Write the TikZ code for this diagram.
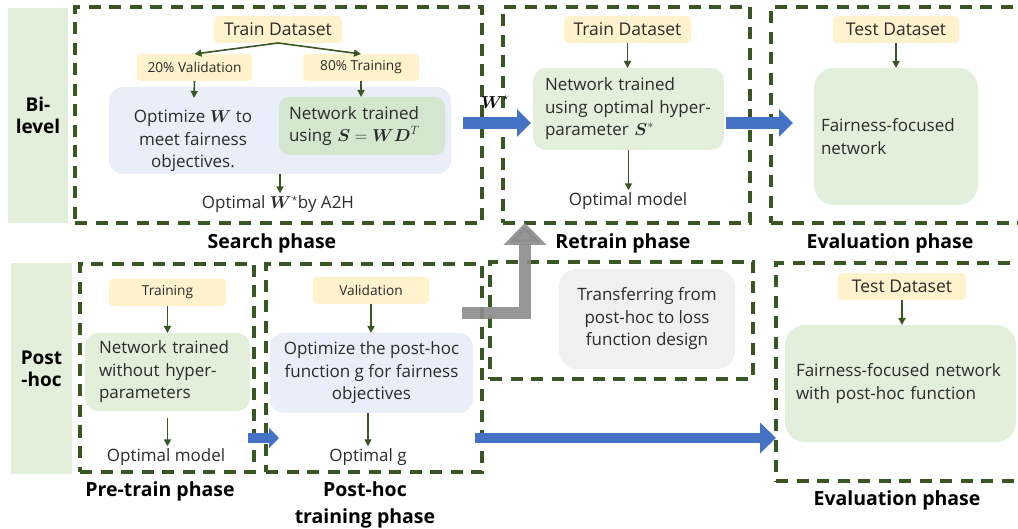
\documentclass[tikz,border=0pt]{standalone}
\usepackage{fontspec}
\setmainfont{Open Sans}
\usepackage{amsmath,amssymb}
\usetikzlibrary{arrows.meta}
\definecolor{dgreen}{HTML}{385723}
\definecolor{bargreen}{HTML}{E2EFDA}
\definecolor{boxgreen}{HTML}{E2EFDA}
\definecolor{innergreen}{HTML}{D3E6CE}
\definecolor{ylw}{HTML}{FFF2CC}
\definecolor{lblue}{HTML}{E9EEF8}
\definecolor{arrblue}{HTML}{4472C4}
\definecolor{lgray}{HTML}{F0F0F0}
\definecolor{agray}{HTML}{8C8C8C}
\definecolor{txt}{HTML}{2B2B2B}
\tikzset{
  mainfont/.style={font=\fontsize{17}{22.5}\selectfont, text=txt},
  bar/.style={fill=bargreen, inner sep=0pt, outer sep=0pt, align=center, font=\bfseries\fontsize{19}{22}\selectfont},
  dbox/.style={draw=dgreen, line width=3.2pt, dash pattern=on 12pt off 8.5pt, inner sep=0pt, outer sep=0pt},
  ybox/.style={fill=ylw, rounded corners=4pt, inner sep=0pt, outer sep=0pt, text=txt, font=\fontsize{17.5}{18}\selectfont},
  ysmall/.style={ybox, font=\fontsize{13.7}{15}\selectfont},
  gbox/.style={fill=boxgreen, rounded corners=13pt, inner ysep=0pt, outer sep=0pt, mainfont},
  bbox/.style={fill=lblue, rounded corners=14pt, inner sep=0pt, outer sep=0pt, mainfont},
  plain/.style={mainfont, inner sep=2pt, align=center},
  lbl/.style={font=\bfseries\fontsize{19.5}{27}\selectfont, text=black, align=center},
  sarr/.style={draw=dgreen, line width=1.6pt, -{Triangle[length=7pt,width=7pt]}},
  barr/.style={draw=arrblue, line width=12pt},
}
\begin{document}
\begin{tikzpicture}[x=1pt,y=-1pt]
\useasboundingbox (0,0) rectangle (1018,529);
\clip (0,0) rectangle (1018,529);

% side bars
\node[bar, minimum width=60pt, minimum height=215pt] (bibar) at (38,115.5) {Bi-\\level};
\node[bar, minimum width=61pt, minimum height=211pt] (phbar) at (41.5,368.5) {Post\\-hoc};

% dashed phase boxes
\node[dbox, minimum width=407pt, minimum height=216pt] (searchbox) at (278.5,115) {};
\node[dbox, minimum width=247pt, minimum height=216pt] (retrainbox) at (626.5,115) {};
\node[dbox, minimum width=269pt, minimum height=216pt] (evaltop) at (905.5,115) {};
\node[dbox, minimum width=174pt, minimum height=208pt] (pretrainbox) at (167,368) {};
\node[dbox, minimum width=216pt, minimum height=208pt] (posthocbox) at (374,368) {};
\node[dbox, minimum width=263pt, minimum height=117pt] (transferbox) at (621.5,320.5) {};
\node[dbox, minimum width=264pt, minimum height=218pt] (evalbot) at (908,372) {};

% ---------- search phase ----------
\node[ybox, minimum width=128pt, minimum height=27pt] (trainds1) at (278,29.5) {Train Dataset};
\node[ysmall, minimum width=115pt, minimum height=27pt] (val20) at (194.5,67.5) {20\% Validation};
\node[ysmall, minimum width=116pt, minimum height=27pt] (tr80) at (361,67.5) {80\% Training};
\node[bbox, minimum width=342pt, minimum height=87pt] (outerblue) at (280,130.5) {};
\node[plain] (optW) at (193,141) {Optimize $\boldsymbol{W}$ to\\meet fairness\\objectives.};
\node[gbox, fill=innergreen, rounded corners=10pt, minimum height=58pt, text width=146pt, inner xsep=10pt, align=left] (innernet) at (362,126) {Network trained\\using $\boldsymbol{S}=\boldsymbol{W}\boldsymbol{D}^{T}$};
\node[plain] (optWs) at (278,204) {Optimal $\boldsymbol{W}^{\star}$by A2H};
\coordinate (valend) at (194,98);
\draw[sarr] (trainds1.south) -- (val20.north);
\draw[sarr] (trainds1.south) -- (tr80.north);
\draw[sarr] (val20.south) -- (valend);
\draw[sarr] (tr80.south) -- (innernet.north -| tr80.south);
\draw[sarr] (outerblue.south) -- (optWs.north -| outerblue.south);
\node[lbl] (searchlbl) at (272,243) {Search phase};

% ---------- retrain phase ----------
\node[ybox, minimum width=127pt, minimum height=27pt] (trainds2) at (627.5,29.5) {Train Dataset};
\node[gbox, minimum height=82pt, text width=167pt, inner xsep=12pt, align=left] (retrainnet) at (628.5,109) {Network trained\\using optimal hyper-\\parameter $\boldsymbol{S}^{*}$};
\node[plain] (optmodel1) at (628,201) {Optimal model};
\draw[sarr] (trainds2.south) -- (retrainnet.north -| trainds2.south);
\draw[sarr] (retrainnet.south) -- (optmodel1.north -| retrainnet.south);
\node[lbl] (retrainlbl) at (623,243) {Retrain phase};

% ---------- evaluation (top) ----------
\node[ybox, minimum width=126pt, minimum height=27pt] (testds1) at (896,29.5) {Test Dataset};
\node[gbox, rounded corners=20pt, minimum height=137pt, text width=150pt, inner xsep=7pt, align=left] (evalnet1) at (896,136.5) {Fairness-focused\\network};
\draw[sarr] (testds1.south) -- (evalnet1.north -| testds1.south);
\node[lbl] (evallbl1) at (890,243) {Evaluation phase};

% blue arrows top
\coordinate (wstart) at (463,123);
\coordinate (wend) at (531,123);
\coordinate (rstart) at (726,123);
\coordinate (rend) at (793,123);
\draw[barr, -{Triangle[length=14pt,width=27pt]}] (wstart) -- (wend);
\draw[barr, -{Triangle[length=14pt,width=27pt]}] (rstart) -- (rend);
\node[font=\fontsize{16}{18}\selectfont] (wlabel) at (495,102) {$\boldsymbol{W}^{\star}$};

% ---------- pre-train phase ----------
\node[ysmall, minimum width=117pt, minimum height=27pt] (training) at (167.5,292.5) {Training};
\node[gbox, minimum height=78pt, text width=137pt, inner xsep=14pt, align=left] (pretrainnet) at (167.5,372) {Network trained\\without hyper-\\parameters};
\node[plain] (optmodel2) at (166,457) {Optimal model};
\draw[sarr] (training.south) -- (pretrainnet.north -| training.south);
\draw[sarr, shorten <=7pt] (pretrainnet.south) -- (optmodel2.north -| pretrainnet.south);
\node[lbl] (pretrainlbl) at (160,491) {Pre-train phase};

% ---------- post-hoc training phase ----------
\node[ysmall, minimum width=116pt, minimum height=27pt] (validation) at (371,290.5) {Validation};
\node[bbox, minimum width=203pt, minimum height=80pt, align=center] (posthocopt) at (371.5,373) {Optimize the post-hoc\\function g for fairness\\objectives};
\node[plain] (optg) at (368,457) {Optimal g};
\draw[sarr] (validation.south) -- (posthocopt.north -| validation.south);
\draw[sarr] (posthocopt.south -| optg.north) -- (optg.north);
\node[lbl] (posthoclbl) at (365,505) {Post-hoc\\training phase};

% ---------- transfer ----------
\node[fill=lgray, rounded corners=18pt, minimum width=176pt, minimum height=100pt, inner sep=0pt, align=center, mainfont] (transfernet) at (647,319) {Transferring from\\post-hoc to loss\\function design};

% ---------- evaluation (bottom) ----------
\node[ybox, minimum width=128pt, minimum height=27pt] (testds2) at (902,286.5) {Test Dataset};
\node[gbox, rounded corners=20pt, minimum height=117pt, text width=209pt, inner xsep=11pt, align=left] (evalnet2) at (900.5,383.5) {Fairness-focused network\\with post-hoc function};
\draw[sarr] (testds2.south) -- (evalnet2.north -| testds2.south);
\node[lbl] (evallbl2) at (897,500) {Evaluation phase};

% blue arrows bottom
\coordinate (b1s) at (248,438);
\coordinate (b1e) at (279,438);
\coordinate (b2s) at (475,438);
\draw[draw=arrblue, line width=10pt, -{Triangle[length=10pt,width=20pt]}] (b1s) -- (b1e);
\draw[draw=arrblue, line width=10pt, -{Triangle[length=16pt,width=30pt]}] (b2s) -- (b2s -| evalbot.west);

% gray transfer arrow
\coordinate (gstart) at (462,313);
\coordinate (gbend) at (525,313);
\draw[draw=agray, opacity=0.9, line width=12pt, line join=miter, -{Triangle[length=22pt,width=42pt]}] (gstart) -- (gbend) -- (gbend |- retrainbox.south);
\end{tikzpicture}
\end{document}
